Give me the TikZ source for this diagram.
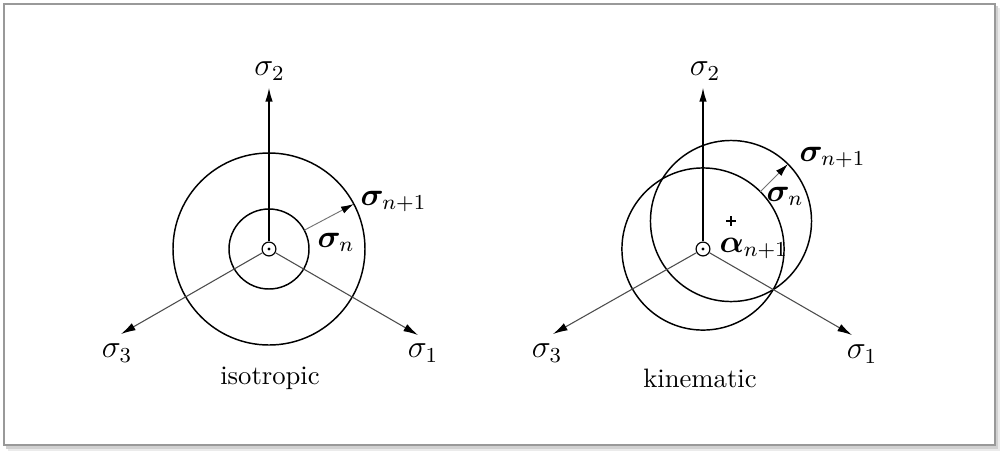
\documentclass[tikz,border=0pt]{standalone}
\usepackage{amsmath,bm}
\usetikzlibrary{arrows.meta,calc}
\begin{document}
\begin{tikzpicture}[x=0.375pt,y=-0.375pt,
  ring/.style={line width=0.55pt},
  mainaxis/.style={line width=0.75pt,-{Latex[length=5.5pt,width=2.8pt]}},
  sideaxis/.style={line width=0.4pt,draw=black!70,-{Latex[length=5.5pt,width=3pt,black]}},
  steparrow/.style={line width=0.35pt,draw=black!55,-{Latex[length=4.8pt,width=2.8pt,black]}},
  lab/.style={inner sep=0pt,font=\large},
  axlab/.style={font=\large},
  caption/.style={font=\normalsize},
  origin/.style={circle,draw,line width=0.45pt,minimum size=5.2pt,inner sep=0pt}]
\useasboundingbox (0,0) rectangle (1002,452);
% frame with shadow
\fill[black!8] (8,8) rectangle (1000,451);
\fill[black!18] (6,6) rectangle (998,449);
\filldraw[fill=white,draw=black!40,line width=0.7pt] (4,4) rectangle (995,445);

% ---------- isotropic ----------
\node[origin] (oL) at (269,249) {};
\fill (oL.center) circle (0.6pt);
\coordinate (tL2) at (269,87);
\coordinate (tL1) at (418,335);
\coordinate (tL3) at (121,334);
\draw[ring] (oL.center) circle[radius=15pt];
\draw[ring] (oL.center) circle[radius=36pt];
\draw[mainaxis] (oL) -- (tL2);
\draw[sideaxis] (oL) -- (tL1);
\draw[sideaxis] (oL) -- (tL3);
\coordinate (aL0) at (304.3,230.2);
\coordinate (aL1) at (353.8,204);
\draw[steparrow] (aL0) -- (aL1);
\node[axlab] (s2L) at (269.5,71) {$\sigma_2$};
\node[axlab] (s1L) at (423,353) {$\sigma_1$};
\node[axlab] (s3L) at (117,353) {$\sigma_3$};
\node[lab,anchor=base west] (sn1L) at (360,205) {$\bm{\sigma}_{n+1}$};
\node[lab,anchor=base west] (snL) at (317,247) {$\bm{\sigma}_n$};
\node[caption] (capL) at (270,378) {isotropic};

% ---------- kinematic ----------
\node[origin] (oR) at (703,249) {};
\fill (oR.center) circle (0.6pt);
\coordinate (cB) at (731,221);
\coordinate (tR2) at (703,87);
\coordinate (tR1) at (852,335);
\coordinate (tR3) at (553,334);
\draw[ring] (oR.center) circle[radius=30.4pt];
\draw[ring] (cB) circle[radius=30.2pt];
\draw[mainaxis] (oR) -- (tR2);
\draw[sideaxis] (oR) -- (tR1);
\draw[sideaxis] (oR) -- (tR3);
\coordinate (aR0) at (760.3,191.7);
\coordinate (aR1) at (787.9,164.1);
\draw[steparrow] (aR0) -- (aR1);
\draw[line width=0.55pt] ($(cB)+(-1.8pt,0)$) -- ($(cB)+(1.8pt,0)$)
  ($(cB)+(0,-1.8pt)$) -- ($(cB)+(0,1.8pt)$);
\node[axlab] (s2R) at (705,71) {$\sigma_2$};
\node[axlab] (s1R) at (862,354) {$\sigma_1$};
\node[axlab] (s3R) at (547,353) {$\sigma_3$};
\node[lab,anchor=base west] (sn1R) at (799,161) {$\bm{\sigma}_{n+1}$};
\node[lab,anchor=base west] (snR) at (766,201) {$\bm{\sigma}_n$};
\node[lab,anchor=base west] (alR) at (719,252) {$\bm{\alpha}_{n+1}$};
\node[caption] (capR) at (700,378) {kinematic};
\end{tikzpicture}
\end{document}
